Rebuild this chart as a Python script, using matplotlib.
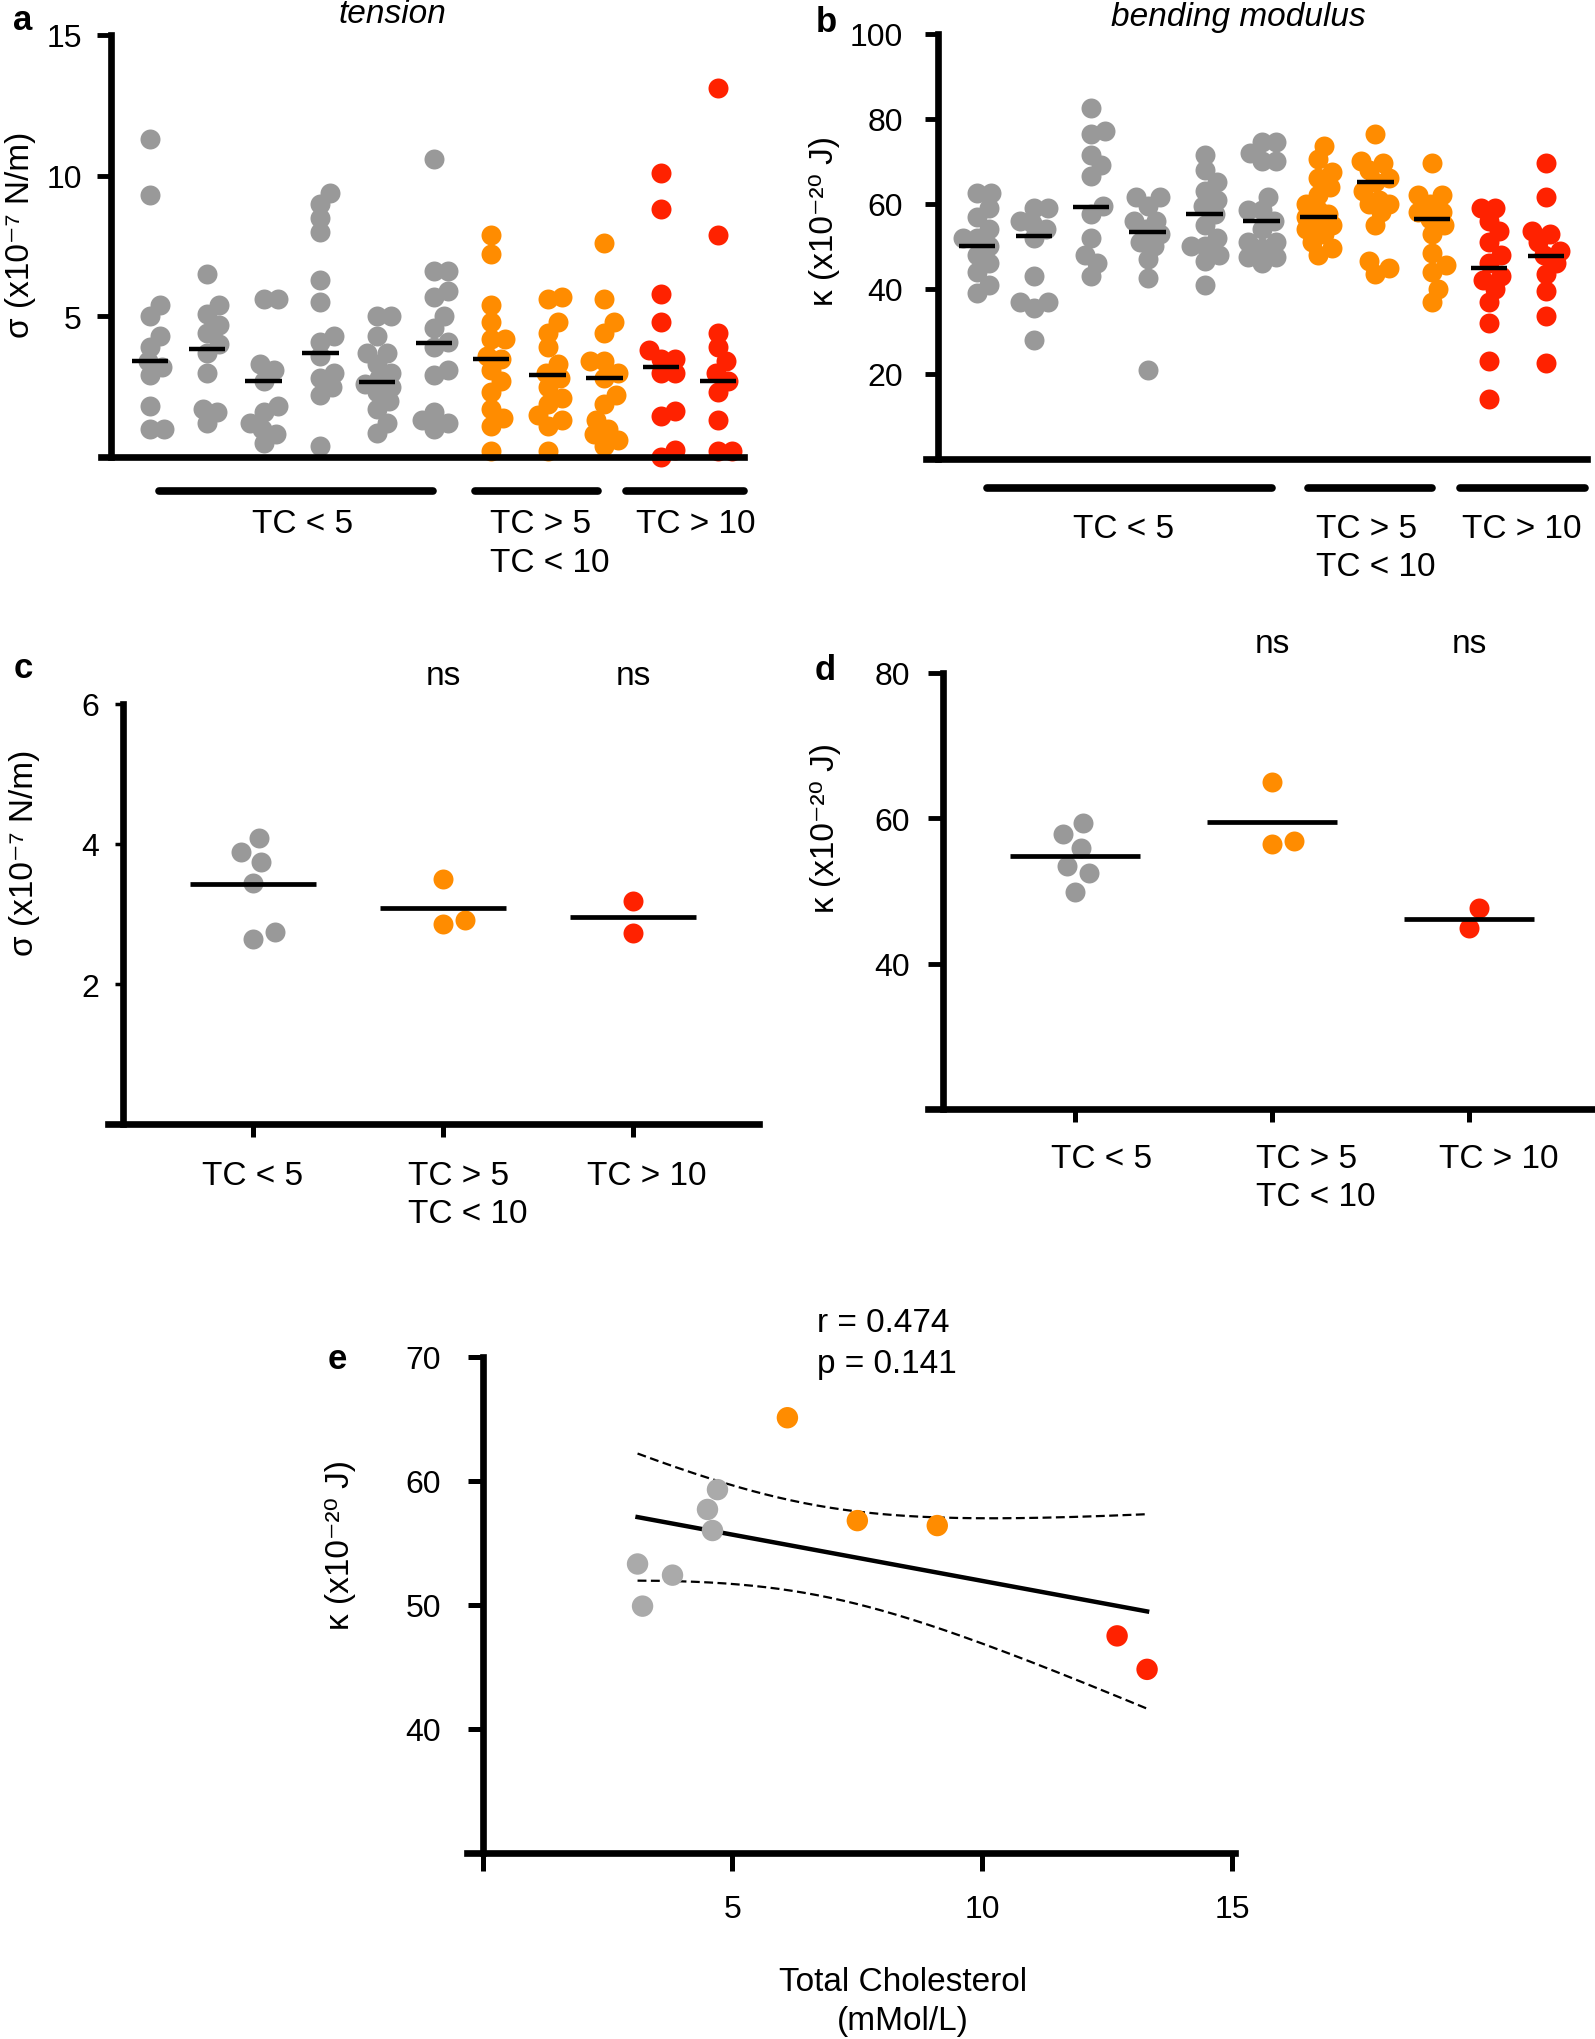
import numpy as np
import matplotlib.pyplot as plt
from matplotlib.transforms import blended_transform_factory

plt.rcParams['font.family'] = ['Liberation Sans', 'DejaVu Sans']
plt.rcParams['font.size'] = 23

GRAY = '#999999'
LIGHT_GRAY = '#AAAAAA'
ORANGE = '#FF8C00'
RED = '#FF2200'

# panel a: membrane tension per donor (x10^-7 N/m)
tension_1 = [11.3, 9.3, 5.4, 5.0, 4.3, 3.9, 3.4, 3.2, 2.9, 1.8, 1.0, 1.0]
tension_2 = [6.5, 5.4, 5.1, 4.7, 4.4, 4.0, 3.7, 3.0, 1.7, 1.6, 1.2]
tension_3 = [5.6, 5.6, 3.3, 3.1, 2.7, 1.8, 1.6, 1.2, 1.0, 0.8, 0.5]
tension_4 = [9.4, 9.0, 8.5, 8.0, 6.3, 5.5, 4.3, 4.1, 3.6, 3.0, 2.8, 2.5, 2.2, 0.4]
tension_5 = [5.0, 5.0, 4.3, 3.7, 3.7, 3.3, 3.0, 2.8, 2.6, 2.5, 2.3, 2.0, 1.7, 1.2, 0.85]
tension_6 = [10.6, 6.6, 6.6, 5.9, 5.7, 5.0, 4.6, 4.1, 3.9, 3.1, 2.9, 1.6, 1.3, 1.2, 1.0]
tension_7 = [7.9, 7.2, 5.4, 4.8, 4.2, 4.2, 3.6, 3.5, 3.1, 2.7, 2.3, 1.7, 1.4, 1.1, 0.2]
tension_8 = [5.7, 5.6, 4.8, 4.4, 3.9, 3.3, 3.0, 2.8, 2.5, 2.1, 1.9, 1.5, 1.3, 1.1, 0.2]
tension_9 = [7.6, 5.6, 4.8, 4.4, 3.4, 3.4, 3.0, 2.8, 2.2, 1.9, 1.3, 1.0, 0.8, 0.6, 0.4]
tension_10 = [10.1, 8.8, 5.8, 4.8, 3.8, 3.5, 3.5, 3.0, 3.0, 1.65, 1.45, 0.25, 0.0]
tension_11 = [13.1, 7.9, 4.4, 3.9, 3.4, 3.0, 2.7, 2.3, 1.3, 0.2, 0.2]
tension_median = [3.4, 3.85, 2.7, 3.7, 2.65, 4.05, 3.5, 2.9, 2.8, 3.2, 2.7]

# panel b: bending modulus per donor (x10^-20 J)
bending_1 = [62.5, 62.5, 59, 57, 54, 52, 52, 50, 48, 46, 44, 41, 39]
bending_2 = [59, 59, 56, 55.5, 54, 52, 43, 37, 37, 35.5, 28]
bending_3 = [82.5, 77, 76.5, 71.5, 69, 66.5, 59.5, 57.5, 52, 48, 46, 43]
bending_4 = [61.5, 61.5, 59.5, 56, 56, 54, 53, 51, 50, 47, 42.5, 21]
bending_5 = [71.5, 68, 65, 63, 61, 59.5, 57.5, 55, 52, 50, 50, 48, 46.5, 41]
bending_6 = [74.5, 74.5, 72, 70, 70, 61.5, 58.5, 58.5, 56, 54, 51, 51, 49.5, 47.5, 47.5, 46]
bending_7 = [73.5, 70.5, 67.5, 66, 64, 62, 60, 58.5, 57.5, 57, 56, 55, 54, 53, 51, 49.5, 48]
bending_8 = [76.5, 70, 69.5, 68, 66, 65, 63, 61, 60, 60, 58, 55, 46.5, 45, 43.5]
bending_9 = [69.5, 62, 62, 60, 58, 58, 56.5, 55, 53, 48.5, 45.5, 44, 40, 37]
bending_10 = [59, 59, 56, 53.5, 51, 48, 46, 43, 42, 40, 37, 32, 23, 14]
bending_11 = [69.5, 61.5, 53.5, 53, 51, 49, 48, 46, 43.5, 39.5, 33.5, 22.5]
bending_median = [50, 52.5, 59.3, 53.3, 57.7, 56, 57, 65.2, 56.4, 45, 47.8]

donor_colors = [GRAY] * 6 + [ORANGE] * 3 + [RED] * 2
group_labels = ['TC < 5', 'TC > 5\nTC < 10', 'TC > 10']
group_colors = [GRAY, ORANGE, RED]

# panels c, d: donor averages per cholesterol group
tension_lo = [4.09, 3.88, 3.74, 3.44, 2.74, 2.65]
tension_mid = [3.50, 2.92, 2.86]
tension_hi = [3.19, 2.73]
tension_group_mean = [3.43, 3.09, 2.96]
bending_lo = [59.3, 57.8, 55.9, 53.4, 52.4, 49.9]
bending_mid = [65.0, 56.9, 56.5]
bending_hi = [47.6, 44.9]
bending_group_mean = [54.8, 59.5, 46.2]

# panel e: bending modulus vs total cholesterol
cholesterol = [3.1, 3.2, 3.8, 4.5, 4.6, 4.7, 6.1, 7.5, 9.1, 12.7, 13.3]
kappa = [53.3, 49.9, 52.4, 57.7, 56.0, 59.3, 65.1, 56.8, 56.4, 47.5, 44.8]
chol_colors = [LIGHT_GRAY] * 6 + [ORANGE] * 3 + [RED] * 2

SIGMA_LABEL = 'σ (x10⁻⁷ N/m)'
KAPPA_LABEL = 'κ (x10⁻²⁰ J)'

W, H = 1595, 2040
DOT = 207
fig = plt.figure(figsize=(W / 100, H / 100), dpi=100)


def axes_px(left, top, right, bottom):
    return fig.add_axes([left / W, 1 - bottom / H, (right - left) / W, (bottom - top) / H])


def style(ax, spine_x, lw=4.8):
    ax.spines['top'].set_visible(False)
    ax.spines['right'].set_visible(False)
    ax.spines['left'].set_position(('data', spine_x))
    ax.spines['left'].set_linewidth(lw)
    ax.spines['bottom'].set_linewidth(lw)


def swarm(ax, vals, x0, d_px=14.0, max_off=14.0):
    # simple beeswarm: smallest horizontal shift that avoids overlap,
    # kept within +-max_off pixels (dots may overlap, as in the original)
    p0 = ax.transData.transform((x0, 0))
    p1 = ax.transData.transform((x0 + 1, 1))
    sx, sy = p1 - p0
    cands = [0.0]
    for k in np.arange(2.0, max_off + 0.1, 2.0):
        cands += [k, -k]
    placed = []
    xs = np.zeros(len(vals))
    for i in np.argsort(vals):
        y = vals[i] * sy
        best, best_d = 0.0, -1.0
        for c in cands:
            dmin = min([np.hypot(c - px, y - py) for px, py in placed] or [1e9])
            if dmin >= d_px:
                best = c
                break
            if dmin > best_d + 0.5:
                best, best_d = c, dmin
        placed.append((best, y))
        xs[i] = x0 + best / sx
    return xs


def fig_text(x, y, s, **kw):
    fig.text(x / W, 1 - y / H, s, **kw)


def donor_panel(ax, data, medians, bars, bar_y, label_pos, label_y):
    for i, vals in enumerate(data):
        xs = swarm(ax, vals, i)
        ax.scatter(xs, vals, s=DOT, color=donor_colors[i], linewidths=0,
                   zorder=2, clip_on=False)
        ax.plot([i - 0.32, i + 0.32], [medians[i]] * 2, color='black', lw=3.2,
                zorder=3, solid_capstyle='butt')
    trans = blended_transform_factory(ax.transData, ax.transAxes)
    for x0, x1 in bars:
        ax.plot([x0, x1], [bar_y, bar_y], transform=trans, color='black', lw=5.5,
                solid_capstyle='round', clip_on=False)
    for lab, (x, ha) in zip(group_labels, label_pos):
        ax.text(x, label_y, lab, transform=trans, ha=ha, va='top',
                multialignment='left', linespacing=1.3, fontsize=24)
    ax.set_xticks([])


# ---------- panel a ----------
ax_a = axes_px(101, 36, 744, 458)
ax_a.set_xlim(-0.863, 10.458)
ax_a.set_ylim(0, 15)
style(ax_a, -0.687)
ax_a.set_yticks([5, 10, 15])
ax_a.tick_params(axis='y', length=10, width=3.5, pad=11, labelsize=23)
tension = [tension_1, tension_2, tension_3, tension_4, tension_5, tension_6,
           tension_7, tension_8, tension_9, tension_10, tension_11]
donor_panel(ax_a, tension, tension_median,
            [(0.16, 4.98), (5.72, 7.89), (8.38, 10.46)], -0.081,
            [(2.68, 'center'), (5.98, 'left'), (9.6, 'center')], -0.122)
ax_a.text(4.26, 1.05, 'tension', style='italic', fontsize=24, ha='center', va='center',
          transform=blended_transform_factory(ax_a.transData, ax_a.transAxes))
fig_text(21, 235, SIGMA_LABEL, rotation=90, ha='center', va='center', fontsize=24)
fig_text(23, 21, 'a', fontweight='bold', fontsize=25, ha='center', va='center')

# ---------- panel b ----------
ax_b = axes_px(925.6, 34.6, 1587, 460)
ax_b.set_xlim(-0.903, 10.72)
ax_b.set_ylim(0, 100)
style(ax_b, -0.677)
ax_b.set_yticks([20, 40, 60, 80, 100])
ax_b.tick_params(axis='y', length=9.5, width=3.5, pad=16, labelsize=23)
bending = [bending_1, bending_2, bending_3, bending_4, bending_5, bending_6,
           bending_7, bending_8, bending_9, bending_10, bending_11]
donor_panel(ax_b, bending, bending_median,
            [(0.18, 5.18), (5.82, 8.0), (8.49, 10.69)], -0.068,
            [(2.58, 'center'), (5.95, 'left'), (9.58, 'center')], -0.126)
ax_b.text(4.6, 1.041, 'bending modulus', style='italic', fontsize=24, ha='center',
          va='center', transform=blended_transform_factory(ax_b.transData, ax_b.transAxes))
fig_text(824.5, 221, KAPPA_LABEL, rotation=90, ha='center', va='center', fontsize=24)
fig_text(826.7, 23, 'b', fontweight='bold', fontsize=25, ha='center', va='center')


def group_panel(ax, groups, means, label_pos, label_y, ns_y):
    for i, vals in enumerate(groups):
        xs = swarm(ax, vals, i, d_px=22.0, max_off=30.0)
        ax.scatter(xs, vals, s=DOT, color=group_colors[i], linewidths=0, zorder=2)
        ax.plot([i - 0.33, i + 0.33], [means[i]] * 2, color='black', lw=3.4,
                zorder=3, solid_capstyle='butt')
    ax.set_xticks(range(len(groups)))
    ax.set_xticklabels([])
    ax.tick_params(axis='x', length=9.5, width=3.6)
    trans = blended_transform_factory(ax.transData, ax.transAxes)
    for i, (lab, (dx, ha)) in enumerate(zip(group_labels, label_pos)):
        ax.text(i + dx, label_y, lab, transform=trans, ha=ha, va='top',
                multialignment='left', linespacing=1.3, fontsize=24)
    for i in (1, 2):
        ax.text(i, ns_y, 'ns', transform=trans, ha='center', va='center', fontsize=24)


# ---------- panel c ----------
ax_c = axes_px(108, 704.6, 759, 1125.4)
ax_c.set_xlim(-0.763, 2.663)
ax_c.set_ylim(0, 6)
style(ax_c, -0.684)
ax_c.set_yticks([0, 2, 4, 6])
ax_c.set_yticklabels(['', '2', '4', '6'])
ax_c.tick_params(axis='y', length=6, width=2.5, pad=11, labelsize=23)
group_panel(ax_c, [tension_lo, tension_mid, tension_hi], tension_group_mean,
            [(0.0, 'center'), (-0.186, 'left'), (0.074, 'center')], -0.0846, 1.067)
fig_text(24.5, 853, SIGMA_LABEL, rotation=90, ha='center', va='center', fontsize=24)
fig_text(23, 669, 'c', fontweight='bold', fontsize=25, ha='center', va='center')

# ---------- panel d ----------
ax_d = axes_px(928, 673.8, 1595, 1110)
ax_d.set_xlim(-0.746, 2.64)
ax_d.set_ylim(20, 80)
style(ax_d, -0.672)
ax_d.set_yticks([40, 60, 80])
ax_d.tick_params(axis='y', length=10.5, width=3.5, pad=13, labelsize=23)
group_panel(ax_d, [bending_lo, bending_mid, bending_hi], bending_group_mean,
            [(0.137, 'center'), (-0.079, 'left'), (0.15, 'center')], -0.0775, 1.068)
fig_text(825.6, 828, KAPPA_LABEL, rotation=90, ha='center', va='center', fontsize=24)
fig_text(825.6, 671, 'd', fontweight='bold', fontsize=25, ha='center', va='center')

# ---------- panel e ----------
ax_e = axes_px(467.5, 1358, 1235, 1853.8)
ax_e.set_xlim(-0.304, 15.06)
ax_e.set_ylim(30, 70)
style(ax_e, 0)
ax_e.scatter(cholesterol, kappa, s=DOT * 1.15, c=chol_colors, linewidths=0, zorder=3)

x = np.array(cholesterol)
y = np.array(kappa)
slope, icpt = np.polyfit(x, y, 1)
n = len(x)
resid = y - (slope * x + icpt)
s_err = np.sqrt((resid ** 2).sum() / (n - 2))
t_crit = 2.262  # t(0.975, df=9)
xf = np.linspace(x.min(), x.max(), 200)
yf = slope * xf + icpt
half = t_crit * s_err * np.sqrt(1 / n + (xf - x.mean()) ** 2 / ((x - x.mean()) ** 2).sum())
ax_e.plot(xf, yf, color='black', lw=3.2, zorder=2)
ax_e.plot(xf, yf + half, color='black', lw=1.6, ls=(0, (4, 2)), zorder=2)
ax_e.plot(xf, yf - half, color='black', lw=1.6, ls=(0, (4, 2)), zorder=2)

ax_e.set_xticks([0, 5, 10, 15])
ax_e.set_xticklabels(['', '5', '10', '15'])
ax_e.set_yticks([40, 50, 60, 70])
ax_e.tick_params(axis='x', length=13, width=3.6, pad=17, labelsize=23)
ax_e.tick_params(axis='y', length=11, width=3.6, pad=19, labelsize=23)
ax_e.set_xlabel('Total Cholesterol\n(mMol/L)', fontsize=24, linespacing=1.35)
ax_e.xaxis.set_label_coords(0.567, -0.228)
ax_e.xaxis.label.set_va('top')
ax_e.text(0.456, 1.069, 'r = 0.474', transform=ax_e.transAxes, ha='left', va='center',
          fontsize=24)
ax_e.text(0.456, 0.986, 'p = 0.141', transform=ax_e.transAxes, ha='left', va='center',
          fontsize=24)
fig_text(341, 1545.5, KAPPA_LABEL, rotation=90, ha='center', va='center', fontsize=24)
fig_text(337.8, 1360, 'e', fontweight='bold', fontsize=25, ha='center', va='center')

fig.savefig('out.png', dpi=100)
